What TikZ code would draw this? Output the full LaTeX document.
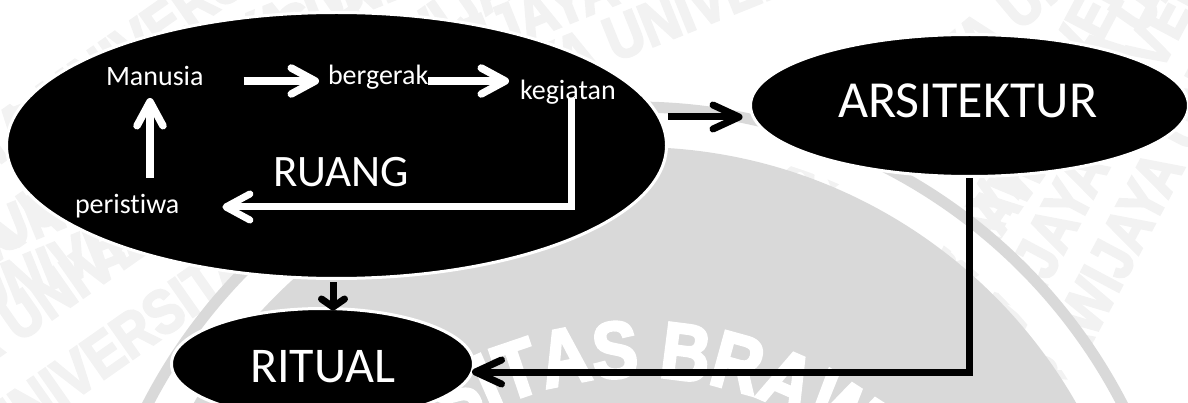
\documentclass[tikz,border=0pt]{standalone}
\usepackage{fontspec}
\setmainfont{Carlito}[Ligatures=NoCommon]
\newfontfamily\sealfont[FakeStretch=0.85,FakeBold=3.5]{Liberation Sans Bold}
\usetikzlibrary{arrows.meta,shapes.geometric,decorations.text}
\definecolor{sealgray}{RGB}{217,217,217}
\definecolor{faintgray}{RGB}{242,242,242}

\begin{document}
\begin{tikzpicture}[x=1pt,y=1pt,
  blob/.style={ellipse, fill=black, draw=white, line width=3pt, inner sep=0pt},
  small/.style={text=white, font=\fontsize{28}{28}\selectfont, inner sep=0pt, outer sep=0pt},
  big/.style={text=white, inner sep=0pt, outer sep=0pt},
  faint/.style={text=faintgray, font=\sealfont\fontsize{62}{62}\selectfont, inner sep=0pt},
  warr/.style={draw=white, line width=7.5pt,
    -{Straight Barb[length=24pt,width=26pt,round]}},
  barr/.style={draw=black, line width=7pt,
    -{Straight Barb[length=26pt,width=24pt,round]}},
  barrshort/.style={draw=black, line width=7pt,
    -{Straight Barb[length=8pt,width=23pt,round]}},
]
\useasboundingbox (0,0) rectangle (1188,-403);

% repeated university name, very light
\begin{scope}
\clip (0,0) rectangle (1188,-403);
\foreach \px/\py/\ang in {40/-110/35, 20/-220/35, 0/-330/35, -20/-440/35,
                          300/-15/22, 620/20/22, 600/-45/22,
                          1020/-150/62, 1095/-150/62, 1170/-150/62, 1000/-20/40, 1120/-30/55}
  \node[faint, rotate=\ang] at (\px,\py)
    {UNIVERSITAS BRAWIJAYA UNIVERSITAS BRAWIJAYA};
\end{scope}

% university seal in the background
\fill[sealgray] (635,-655) circle[radius=508];
\draw[white, line width=30pt] (635,-655) circle[radius=528];
\draw[sealgray, line width=11pt] (635,-655) circle[radius=548];
\path[decorate, decoration={text along path, text align=center,
    text={|\color{white}\sealfont\fontsize{80}{80}\selectfont|UNIVERSITAS BRAWIJAYA}}]
  (638,-725) ++(182:348) arc[start angle=182, end angle=2, radius=348];

% main shapes
\node[blob, minimum width=660, minimum height=266] (ruang) at (336.5,-145.5) {};
\node[blob, minimum width=438, minimum height=142] (arsi) at (969.5,-105.5) {};
\node[blob, minimum width=302, minimum height=111] (ritual) at (322.5,-364) {};

% labels
\node[small, anchor=base west] (manusia) at (106,-86) {Manusia};
\node[small, anchor=base west] (bergerak) at (328,-85) {bergerak};
\node[small, anchor=base west] (kegiatan) at (520,-100) {kegiatan};
\node[small, anchor=base west] (peristiwa) at (75,-214) {peristiwa};
\node[big, font=\fontsize{45}{45}\selectfont, anchor=base west] (ruanglbl) at (273,-187) {RUANG};
\node[big, font=\fontsize{52}{52}\selectfont, anchor=base west] (arsilbl) at (838,-118) {ARSITEKTUR};
\node[big, font=\fontsize{50}{50}\selectfont, anchor=base west] (rituallbl) at (250,-382) {RITUAL};

% cycle inside RUANG
\coordinate (m1) at ([yshift=5pt]manusia.base east);
\draw[warr, shorten <=40pt, shorten >=9pt] (m1) -- (m1 -| bergerak.base west);
\coordinate (b1) at ([yshift=4pt]bergerak.base east);
\draw[warr, shorten >=11pt] (b1) -- (b1 -| kegiatan.base west);
\coordinate (p1) at ([xshift=44pt]manusia.base west);
\draw[warr, shorten <=36pt, shorten >=12pt] (p1 |- peristiwa.base) -- (p1);
\coordinate (k1) at ([xshift=51.5pt,yshift=2pt]kegiatan.base west);
\coordinate (q1) at ([yshift=7pt]peristiwa.base east);
\draw[warr, line width=7pt, shorten >=43pt] (k1) |- (q1);

% links between the three ellipses
\coordinate (a1) at ([yshift=-11.5pt]arsi.west);
\draw[barr, shorten >=6.5pt] (ruang.east |- a1) -- (a1);
\coordinate (r1) at ([xshift=-3.5pt]ruang.south);
\draw[barrshort, shorten <=2pt, shorten >=-3.5pt] (r1) -- (r1 |- ritual.north);
\coordinate (t1) at ([yshift=-8pt]ritual.east);
\draw[barr, shorten >=-3pt] (arsi.south) |- (t1);
\end{tikzpicture}
\end{document}
